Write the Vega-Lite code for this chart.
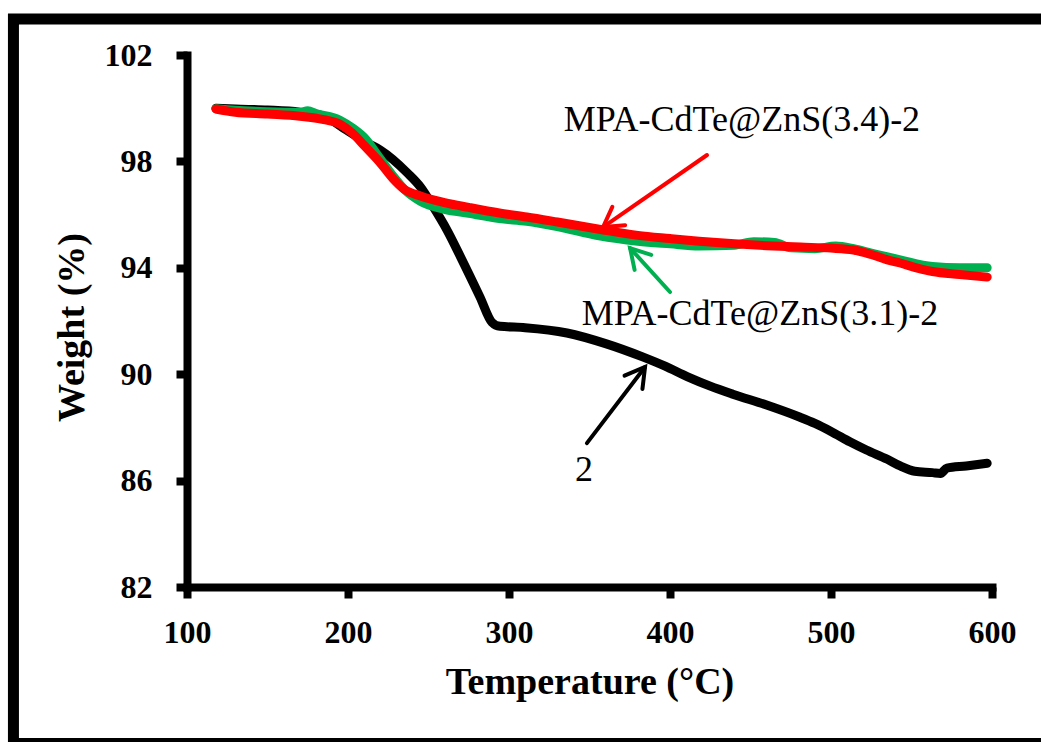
{
  "$schema": "https://vega.github.io/schema/vega-lite/v6.json",
  "width": 805,
  "height": 532,
  "autosize": {"type": "none"},
  "padding": {"left": 187, "top": 55, "right": 49, "bottom": 155},
  "background": "white",
  "config": {"view": {"stroke": null}},
  "datasets": {
    "frame": [{"T": -7.8, "T2": 634.2, "W": 103.35, "W2": 76.12}],
    "tga": [
      {"s": "2", "T": 118, "W": 100.0},
      {"s": "2", "T": 130, "W": 99.97},
      {"s": "2", "T": 150, "W": 99.93},
      {"s": "2", "T": 170, "W": 99.85},
      {"s": "2", "T": 185, "W": 99.7},
      {"s": "2", "T": 199, "W": 99.18},
      {"s": "2", "T": 212, "W": 98.69},
      {"s": "2", "T": 220, "W": 98.43},
      {"s": "2", "T": 237, "W": 97.56},
      {"s": "2", "T": 245, "W": 97.04},
      {"s": "2", "T": 253, "W": 96.29},
      {"s": "2", "T": 261.5, "W": 95.42},
      {"s": "2", "T": 270, "W": 94.4},
      {"s": "2", "T": 282, "W": 92.9},
      {"s": "2", "T": 289.4, "W": 91.95},
      {"s": "2", "T": 294.4, "W": 91.8},
      {"s": "2", "T": 310, "W": 91.75},
      {"s": "2", "T": 336, "W": 91.55},
      {"s": "2", "T": 360, "W": 91.15},
      {"s": "2", "T": 383, "W": 90.65},
      {"s": "2", "T": 397, "W": 90.3},
      {"s": "2", "T": 411, "W": 89.9},
      {"s": "2", "T": 425, "W": 89.55},
      {"s": "2", "T": 439, "W": 89.25},
      {"s": "2", "T": 460, "W": 88.84},
      {"s": "2", "T": 480, "W": 88.4},
      {"s": "2", "T": 490, "W": 88.15},
      {"s": "2", "T": 500, "W": 87.85},
      {"s": "2", "T": 512, "W": 87.45},
      {"s": "2", "T": 522, "W": 87.15},
      {"s": "2", "T": 535, "W": 86.8},
      {"s": "2", "T": 543, "W": 86.55},
      {"s": "2", "T": 552, "W": 86.35},
      {"s": "2", "T": 563, "W": 86.3},
      {"s": "2", "T": 568, "W": 86.27},
      {"s": "2", "T": 572, "W": 86.47},
      {"s": "2", "T": 584, "W": 86.55},
      {"s": "2", "T": 597, "W": 86.65},
      {"s": "3.1", "T": 118, "W": 99.98},
      {"s": "3.1", "T": 130, "W": 99.92},
      {"s": "3.1", "T": 150, "W": 99.87},
      {"s": "3.1", "T": 170, "W": 99.85},
      {"s": "3.1", "T": 175, "W": 99.9},
      {"s": "3.1", "T": 180, "W": 99.8},
      {"s": "3.1", "T": 195, "W": 99.55},
      {"s": "3.1", "T": 203, "W": 99.25},
      {"s": "3.1", "T": 210, "W": 98.9},
      {"s": "3.1", "T": 220, "W": 98.1},
      {"s": "3.1", "T": 228, "W": 97.45},
      {"s": "3.1", "T": 235, "W": 96.95},
      {"s": "3.1", "T": 245, "W": 96.5},
      {"s": "3.1", "T": 260, "W": 96.2},
      {"s": "3.1", "T": 275, "W": 96.05},
      {"s": "3.1", "T": 294, "W": 95.85},
      {"s": "3.1", "T": 311, "W": 95.75},
      {"s": "3.1", "T": 330, "W": 95.55},
      {"s": "3.1", "T": 356, "W": 95.2},
      {"s": "3.1", "T": 380, "W": 95.0},
      {"s": "3.1", "T": 400, "W": 94.9},
      {"s": "3.1", "T": 418, "W": 94.82},
      {"s": "3.1", "T": 440, "W": 94.85},
      {"s": "3.1", "T": 452, "W": 94.98},
      {"s": "3.1", "T": 465, "W": 94.95},
      {"s": "3.1", "T": 475, "W": 94.75},
      {"s": "3.1", "T": 490, "W": 94.72},
      {"s": "3.1", "T": 503, "W": 94.82},
      {"s": "3.1", "T": 514, "W": 94.72},
      {"s": "3.1", "T": 525, "W": 94.55},
      {"s": "3.1", "T": 543, "W": 94.3},
      {"s": "3.1", "T": 563, "W": 94.05},
      {"s": "3.1", "T": 580, "W": 94.0},
      {"s": "3.1", "T": 597, "W": 94.0},
      {"s": "3.4", "T": 118, "W": 99.97},
      {"s": "3.4", "T": 130, "W": 99.85},
      {"s": "3.4", "T": 150, "W": 99.78},
      {"s": "3.4", "T": 170, "W": 99.7},
      {"s": "3.4", "T": 185, "W": 99.57},
      {"s": "3.4", "T": 195, "W": 99.4},
      {"s": "3.4", "T": 203, "W": 99.05},
      {"s": "3.4", "T": 210, "W": 98.6},
      {"s": "3.4", "T": 220, "W": 97.95},
      {"s": "3.4", "T": 228, "W": 97.35},
      {"s": "3.4", "T": 235, "W": 96.95},
      {"s": "3.4", "T": 245, "W": 96.7},
      {"s": "3.4", "T": 260, "W": 96.45},
      {"s": "3.4", "T": 275, "W": 96.27},
      {"s": "3.4", "T": 294, "W": 96.06},
      {"s": "3.4", "T": 311, "W": 95.91},
      {"s": "3.4", "T": 330, "W": 95.72},
      {"s": "3.4", "T": 356, "W": 95.45},
      {"s": "3.4", "T": 380, "W": 95.22},
      {"s": "3.4", "T": 400, "W": 95.1},
      {"s": "3.4", "T": 418, "W": 95.0},
      {"s": "3.4", "T": 440, "W": 94.9},
      {"s": "3.4", "T": 460, "W": 94.83},
      {"s": "3.4", "T": 481, "W": 94.78},
      {"s": "3.4", "T": 500, "W": 94.74},
      {"s": "3.4", "T": 514, "W": 94.67},
      {"s": "3.4", "T": 525, "W": 94.5},
      {"s": "3.4", "T": 535, "W": 94.3},
      {"s": "3.4", "T": 543, "W": 94.18},
      {"s": "3.4", "T": 553, "W": 94.0},
      {"s": "3.4", "T": 563, "W": 93.86},
      {"s": "3.4", "T": 580, "W": 93.75},
      {"s": "3.4", "T": 597, "W": 93.65}
    ],
    "arrows": [
      {"s": "3.4", "T": 358.4, "W": 95.53, "T2": 423, "W2": 98.24},
      {"s": "3.1", "T": 375.2, "W": 94.74, "T2": 400, "W2": 93.09},
      {"s": "2", "T": 384.5, "W": 90.27, "T2": 348.4, "W2": 87.41}
    ],
    "labels": [
      {"T": 444.7, "W": 99.56, "label": "MPA-CdTe@ZnS(3.4)-2"},
      {"T": 455.9, "W": 92.26, "label": "MPA-CdTe@ZnS(3.1)-2"},
      {"T": 346.6, "W": 86.4, "label": "2"}
    ]
  },
  "encoding": {
    "x": {
      "field": "T",
      "type": "quantitative",
      "scale": {"domain": [100, 600], "nice": false, "zero": false},
      "axis": {
        "title": "Temperature (°C)",
        "values": [100, 200, 300, 400, 500, 600],
        "grid": false,
        "domainColor": "black",
        "domainWidth": 8,
        "domainCap": "square",
        "tickColor": "black",
        "tickWidth": 8,
        "tickSize": 11,
        "labelFont": "Liberation Serif",
        "labelFontSize": 32,
        "labelFontWeight": "bold",
        "labelColor": "black",
        "labelPadding": 19,
        "labelFlush": false,
        "labelOverlap": false,
        "titleFont": "Liberation Serif",
        "titleFontSize": 38,
        "titleFontWeight": "bold",
        "titleColor": "black",
        "titlePadding": 15
      }
    },
    "y": {
      "field": "W",
      "type": "quantitative",
      "scale": {"domain": [82, 102], "nice": false, "zero": false},
      "axis": {
        "title": "Weight (%)",
        "values": [82, 86, 90, 94, 98, 102],
        "grid": false,
        "domainColor": "black",
        "domainWidth": 8,
        "domainCap": "square",
        "tickColor": "black",
        "tickWidth": 8,
        "tickSize": 11,
        "labelFont": "Liberation Serif",
        "labelFontSize": 32,
        "labelFontWeight": "bold",
        "labelColor": "black",
        "labelPadding": 24,
        "labelFlush": false,
        "labelOverlap": false,
        "titleFont": "Liberation Serif",
        "titleFontSize": 38,
        "titleFontWeight": "bold",
        "titleColor": "black",
        "titlePadding": 13,
        "titleY": 272
      }
    }
  },
  "layer": [
    {
      "data": {"name": "frame"},
      "mark": {"type": "rect", "fill": null, "stroke": "black", "strokeWidth": 11, "clip": false},
      "encoding": {"x2": {"field": "T2"}, "y2": {"field": "W2"}}
    },
    {
      "data": {"name": "tga"},
      "mark": {"type": "line", "interpolate": "monotone", "strokeWidth": 9, "strokeCap": "round", "strokeJoin": "round"},
      "encoding": {
        "color": {"field": "s", "type": "nominal", "scale": {"domain": ["2", "3.1", "3.4"], "range": ["black", "#00B050", "#FF0000"]}, "legend": null}
      }
    },
    {
      "data": {"name": "arrows"},
      "mark": {"type": "rule", "strokeWidth": 4, "strokeCap": "round"},
      "encoding": {
        "x2": {"field": "T2"},
        "y2": {"field": "W2"},
        "color": {"field": "s", "type": "nominal", "legend": null}
      }
    },
    {
      "data": {"name": "arrows"},
      "transform": [{"filter": "datum.s === '3.4'"}],
      "mark": {"type": "point", "shape": "M -0.7 1.2 L 0 0 L 0.7 1.2", "filled": false, "size": 1024, "strokeWidth": 4, "angle": 235, "opacity": 1, "strokeCap": "round", "strokeJoin": "miter"},
      "encoding": {"color": {"field": "s", "type": "nominal", "legend": null}}
    },
    {
      "data": {"name": "arrows"},
      "transform": [{"filter": "datum.s === '3.1'"}],
      "mark": {"type": "point", "shape": "M -0.7 1.2 L 0 0 L 0.7 1.2", "filled": false, "size": 1024, "strokeWidth": 4, "angle": 318, "opacity": 1, "strokeCap": "round", "strokeJoin": "miter"},
      "encoding": {"color": {"field": "s", "type": "nominal", "legend": null}}
    },
    {
      "data": {"name": "arrows"},
      "transform": [{"filter": "datum.s === '2'"}],
      "mark": {"type": "point", "shape": "M -0.7 1.2 L 0 0 L 0.7 1.2", "filled": false, "size": 1024, "strokeWidth": 4, "angle": 37, "opacity": 1, "strokeCap": "round", "strokeJoin": "miter"},
      "encoding": {"color": {"field": "s", "type": "nominal", "legend": null}}
    },
    {
      "data": {"name": "labels"},
      "mark": {"type": "text", "font": "Liberation Serif", "fontSize": 36, "color": "black", "align": "center", "baseline": "middle"},
      "encoding": {"text": {"field": "label", "type": "nominal"}}
    }
  ]
}
